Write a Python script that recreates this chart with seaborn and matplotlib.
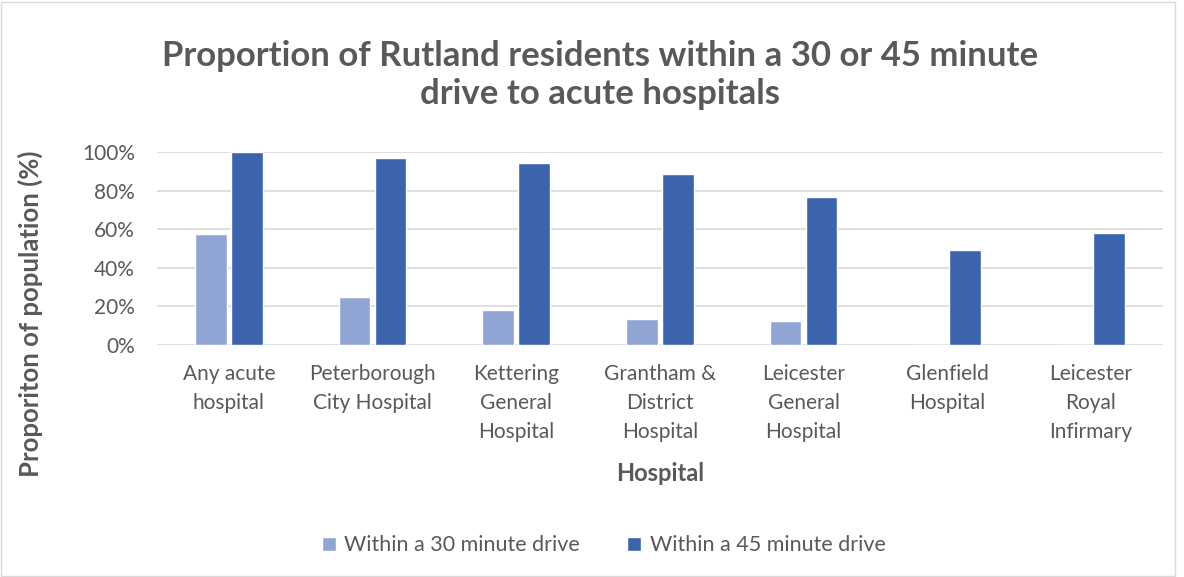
import matplotlib
matplotlib.use("Agg")
import matplotlib.pyplot as plt
import seaborn as sns
import pandas as pd
from matplotlib.ticker import PercentFormatter
from matplotlib.patches import Rectangle

hospitals = ["Any acute\nhospital", "Peterborough\nCity Hospital", "Kettering\nGeneral\nHospital",
             "Grantham &\nDistrict\nHospital", "Leicester\nGeneral\nHospital", "Glenfield\nHospital",
             "Leicester\nRoyal\nInfirmary"]
within_30 = [0.574, 0.25, 0.181, 0.135, 0.124, 0.0, 0.0]
within_45 = [1.0, 0.969, 0.943, 0.886, 0.767, 0.492, 0.58]
series = ["Within a 30 minute drive", "Within a 45 minute drive"]
colors = ["#91A5D5", "#3B64AD"]

df = pd.DataFrame({
    "Hospital": hospitals * 2,
    "Value": within_30 + within_45,
    "Series": [series[0]] * len(hospitals) + [series[1]] * len(hospitals),
})

sns.set_theme(style="white")
plt.rcParams["font.family"] = ["Lato", "DejaVu Sans"]
gray = "#595959"

fig = plt.figure(figsize=(11.84, 5.77), dpi=100)
ax = fig.add_axes([0.1326, 0.402, 0.8494, 0.3345])
sns.barplot(data=df, x="Hospital", y="Value", hue="Series", palette=colors,
            width=0.5, gap=0.12, ax=ax, saturation=1, legend=True)

ax.set_ylim(0, 1.0)
ax.set_yticks([0, 0.2, 0.4, 0.6, 0.8, 1.0])
ax.yaxis.set_major_formatter(PercentFormatter(1.0, decimals=0))
ax.grid(axis="y", color="#d9d9d9", linewidth=1.2)
ax.set_axisbelow(True)
for s in ax.spines.values():
    s.set_visible(False)
ax.tick_params(axis="both", length=0, labelsize=15, colors=gray)
ax.tick_params(axis="y", pad=16)
ax.tick_params(axis="x", pad=14)
for t in ax.get_xticklabels():
    t.set_linespacing(1.55)
    t.set_va("top")
ax.set_xlabel("Hospital", fontsize=17, fontweight="bold", color=gray)
ax.xaxis.set_label_coords(0.5, -0.668)
ax.xaxis.label.set_va("center")
ax.set_ylabel("Proporiton of population (%)", fontsize=18.5, fontweight="bold", color=gray)
ax.yaxis.set_label_coords(-0.126, 0.16)
ax.yaxis.label.set_va("center")

fig.text(0.507, 0.87, "Proportion of Rutland residents within a 30 or 45 minute\ndrive to acute hospitals",
         ha="center", va="center", fontsize=25, fontweight="bold", color=gray, linespacing=1.25)

leg = ax.legend(loc="center", bbox_to_anchor=(0.51, 0.055), bbox_transform=fig.transFigure,
                ncol=2, frameon=False, fontsize=15.5, handlelength=0.65, handleheight=0.65,
                columnspacing=2.2, handletextpad=0.4)
for t in leg.get_texts():
    t.set_color(gray)

fig.patches.append(Rectangle((0.001, 0.002), 0.991, 0.995, transform=fig.transFigure,
                             fill=False, edgecolor="#d9d9d9", linewidth=1))

fig.savefig("out.png", dpi=100, facecolor="white")
